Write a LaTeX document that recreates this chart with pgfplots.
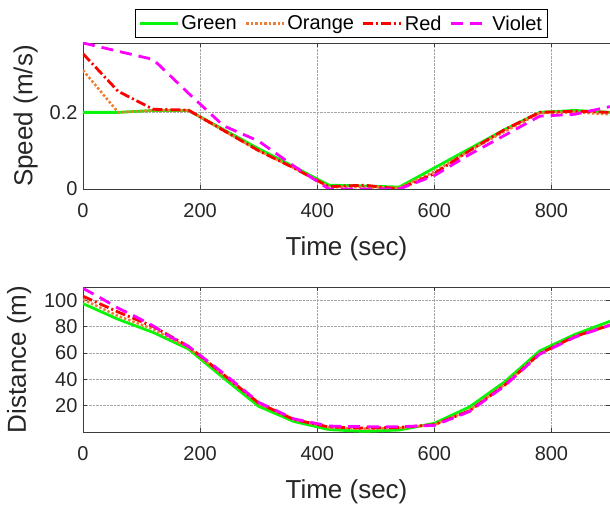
\documentclass[border=0pt]{standalone}
\usepackage{fontspec}
\setmainfont{Liberation Sans}
\usepackage{pgfplots}
\pgfplotsset{compat=1.18}
\definecolor{cgreen}{RGB}{10,245,10}
\definecolor{corange}{RGB}{237,125,49}
\definecolor{cred}{RGB}{255,0,0}
\definecolor{cviolet}{RGB}{255,0,255}
\definecolor{axgray}{RGB}{60,60,60}

\pgfplotsset{
  myaxis/.style={
    scale only axis, width=527pt, height=145pt,
    xmin=0, xmax=900,
    xtick={0,200,400,600,800},
    grid=major,
    major grid style={densely dotted, gray!70, line width=0.6pt},
    tick align=inside,
    axis line style={axgray, line width=0.8pt},
    tick style={axgray, line width=0.6pt},
    major tick length=4pt,
    tick label style={font=\fontsize{20}{24}\selectfont, text=black!85},
    xticklabel style={yshift=-11pt},
    yticklabel style={xshift=-2pt},
    label style={font=\fontsize{26}{30}\selectfont, text=black!85},
    xlabel style={yshift=-12pt},
    /pgf/number format/assume math mode=true,
    xlabel={Time (sec)},
    legend image code/.code={\draw[#1] (0pt,0pt) -- (38pt,0pt);},
  },
  sg/.style={cgreen, line width=2.8pt},
  so/.style={corange, line width=2.5pt, dotted},
  sr/.style={cred, line width=2.8pt, dash pattern=on 10pt off 3pt on 2pt off 3pt},
  sv/.style={cviolet, line width=2.8pt, dash pattern=on 12pt off 7pt},
}

\begin{document}
\begin{tikzpicture}
\useasboundingbox (-83pt,-74pt) rectangle (527pt,432pt);
% speed
\begin{axis}[myaxis, at={(0,243pt)}, height=146pt,
    ymin=0, ymax=0.381, ytick={0,0.2},
    yticklabels={0,0.2},
    ylabel={Speed (m/s)},
    ylabel style={yshift=5pt},
    legend style={at={(0.49,1)}, yshift=5pt, anchor=south, legend columns=4,
      draw=black, line width=0.6pt, font=\fontsize{20}{22}\selectfont,
      inner xsep=3pt, inner ysep=4pt,
      /tikz/every even column/.append style={column sep=6pt}},
    legend cell align=left,
]
\addplot[sg] coordinates {
 (0,0.2) (60,0.2) (120,0.205) (180,0.205) (240,0.155) (300,0.105) (360,0.058)
 (420,0.01) (480,0.008) (540,0.005) (600,0.055) (660,0.105) (720,0.155)
 (780,0.2) (840,0.205) (900,0.2)};
\addlegendentry{Green}
\addplot[so] coordinates {
 (0,0.31) (60,0.2) (120,0.205) (180,0.205) (240,0.152) (300,0.1) (360,0.055)
 (420,0.005) (480,0.005) (540,0.003) (600,0.045) (660,0.1) (720,0.15)
 (780,0.198) (840,0.2) (900,0.195)};
\addlegendentry{Orange}
\addplot[sr] coordinates {
 (0,0.353) (60,0.255) (120,0.208) (180,0.206) (240,0.153) (300,0.1) (360,0.055)
 (420,0.006) (480,0.01) (540,0.0) (600,0.04) (660,0.1) (720,0.155)
 (780,0.2) (840,0.203) (900,0.2)};
\addlegendentry{Red}
\addplot[sv] coordinates {
 (0,0.381) (120,0.338) (180,0.25) (240,0.165) (300,0.125) (360,0.06)
 (420,0.0) (480,0.0) (540,0.0) (600,0.035) (660,0.09) (720,0.14)
 (780,0.19) (840,0.195) (900,0.215)};
\addlegendentry{Violet}
\end{axis}
% distance
\begin{axis}[myaxis, at={(0,0)},
    ymin=0, ymax=110, ytick={20,40,60,80,100},
    ylabel={Distance (m)},
    ylabel style={yshift=6pt},
]
\addplot[sg] coordinates {
 (0,97.4) (60,85.5) (120,75.5) (180,63) (240,41) (300,19.5) (360,8)
 (420,1.8) (480,0.5) (540,1.5) (600,6.6) (660,19) (720,38) (780,61.5)
 (840,74) (900,84)};
\addplot[so] coordinates {
 (0,100.5) (60,88) (120,78) (180,64) (240,43) (300,21.5) (360,9.5)
 (420,3.5) (480,2.5) (540,3) (600,5.5) (660,16.5) (720,36) (780,59.5)
 (840,72.5) (900,81.5)};
\addplot[sr] coordinates {
 (0,103) (60,91) (120,80) (180,65) (240,43.5) (300,22) (360,9.5)
 (420,3.8) (480,3) (540,3.5) (600,5.5) (660,16) (720,35.5) (780,59.5)
 (840,72.5) (900,81)};
\addplot[sv] coordinates {
 (0,109) (30,101.7) (60,94) (90,87.5) (120,80.5) (150,72) (180,65)
 (240,44.5) (300,22.5) (360,10) (420,4.5) (480,4) (540,4) (600,5)
 (660,15.5) (720,35) (780,59) (840,72) (900,81)};
\end{axis}
\end{tikzpicture}
\end{document}
